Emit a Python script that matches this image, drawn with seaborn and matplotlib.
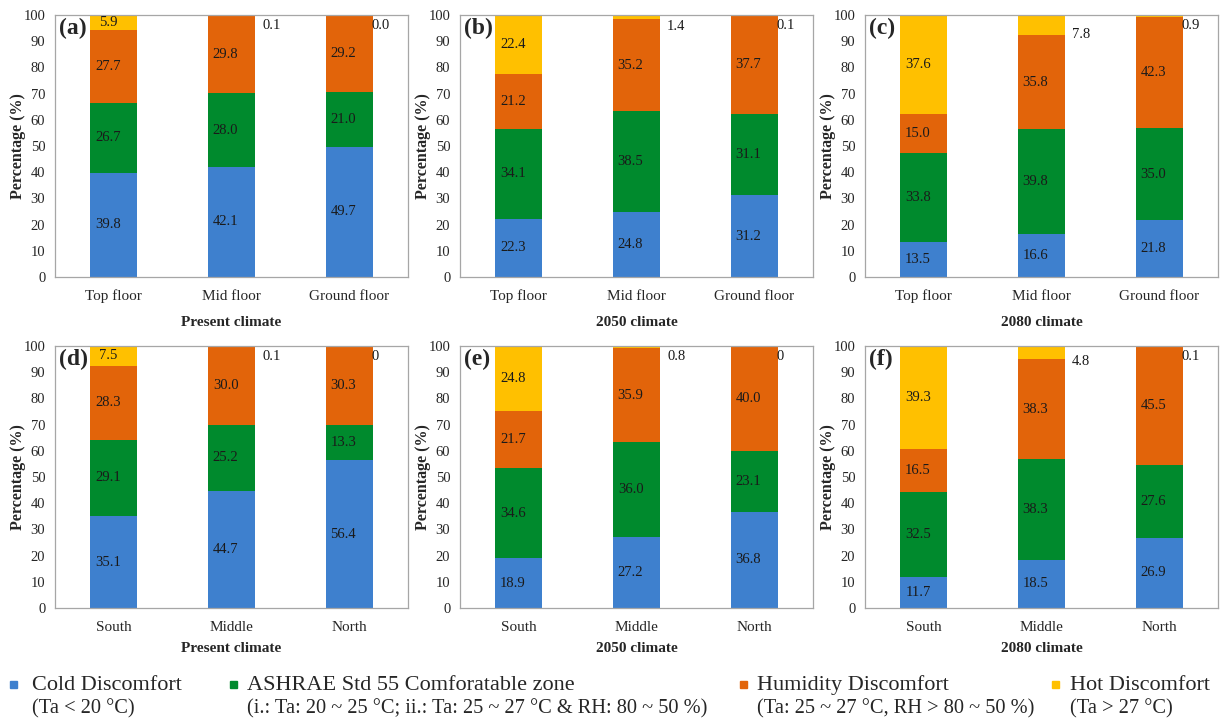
import matplotlib
matplotlib.use("Agg")
import matplotlib.pyplot as plt
from matplotlib.patches import Rectangle
import seaborn as sns
import pandas as pd

# === Andmed (loetud jooniselt) ===
floors = ["Top floor", "Mid floor", "Ground floor"]
regions = ["South", "Middle", "North"]

cold_a = [39.8, 42.1, 49.7]
comf_a = [26.7, 28.0, 21.0]
humid_a = [27.7, 29.8, 29.2]
hot_a = ["5.9", "0.1", "0.0"]

cold_b = [22.3, 24.8, 31.2]
comf_b = [34.1, 38.5, 31.1]
humid_b = [21.2, 35.2, 37.7]
hot_b = ["22.4", "1.4", "0.1"]

cold_c = [13.5, 16.6, 21.8]
comf_c = [33.8, 39.8, 35.0]
humid_c = [15.0, 35.8, 42.3]
hot_c = ["37.6", "7.8", "0.9"]

cold_d = [35.1, 44.7, 56.4]
comf_d = [29.1, 25.2, 13.3]
humid_d = [28.3, 30.0, 30.3]
hot_d = ["7.5", "0.1", "0"]

cold_e = [18.9, 27.2, 36.8]
comf_e = [34.6, 36.0, 23.1]
humid_e = [21.7, 35.9, 40.0]
hot_e = ["24.8", "0.8", "0"]

cold_f = [11.7, 18.5, 26.9]
comf_f = [32.5, 38.3, 27.6]
humid_f = [16.5, 38.3, 45.5]
hot_f = ["39.3", "4.8", "0.1"]

panels = [
    ("(a)", floors, "Present climate", cold_a, comf_a, humid_a, hot_a),
    ("(b)", floors, "2050 climate", cold_b, comf_b, humid_b, hot_b),
    ("(c)", floors, "2080 climate", cold_c, comf_c, humid_c, hot_c),
    ("(d)", regions, "Present climate", cold_d, comf_d, humid_d, hot_d),
    ("(e)", regions, "2050 climate", cold_e, comf_e, humid_e, hot_e),
    ("(f)", regions, "2080 climate", cold_f, comf_f, humid_f, hot_f),
]

layers = ["Cold", "Comfort", "Humidity", "Hot"]
colors = ["#3E80CE", "#008A2D", "#E2640A", "#FFC000"]

legend_main = ["Cold Discomfort", "ASHRAE Std 55 Comforatable zone",
               "Humidity Discomfort", "Hot Discomfort"]
legend_sub = ["(Ta < 20 °C)",
              "(i.: Ta: 20 ~ 25 °C; ii.: Ta: 25 ~ 27 °C & RH: 80 ~ 50 %)",
              "(Ta: 25 ~ 27 °C, RH > 80 ~ 50 %)",
              "(Ta > 27 °C)"]

sns.set_style("white")
plt.rcParams["font.family"] = ["Liberation Serif", "DejaVu Serif"]

W, H = 1224, 723
fig = plt.figure(figsize=(W / 100, H / 100), dpi=100)

lefts = [55, 460, 865]
tops = [15, 346]
aw, ah = 353, 262
grid_col = "#A6A6A6"
txt_col = "#1a1a1a"

for k, (tag, cats, climate, cold, comf, humid, hot_txt) in enumerate(panels):
    row, col = divmod(k, 3)
    ax = fig.add_axes([lefts[col] / W, 1 - (tops[row] + ah) / H, aw / W, ah / H])

    hot = [float(v) for v in hot_txt]
    df = pd.DataFrame({"cat": cats, "Cold": cold, "Comfort": comf,
                       "Humidity": humid, "Hot": hot})
    cum = df[layers].cumsum(axis=1)

    # kuhjatud tulbad: suurimast kumulatiivsest väärtusest alla
    for lay, colr in reversed(list(zip(layers, colors))):
        sns.barplot(data=cum.assign(cat=cats), x="cat", y=lay, color=colr,
                    width=0.4, ax=ax, saturation=1, edgecolor="none")

    # väärtused segmentide sees
    for i in range(3):
        base = 0
        for lay in layers[:3]:
            v = df.loc[i, lay]
            ax.text(i - 0.05, base + v / 2, f"{v:.1f}", ha="center", va="center",
                    fontsize=10.5, color=txt_col)
            base += v
        v = hot[i]
        if i == 0:
            ax.text(i - 0.05, base + v / 2, hot_txt[i], ha="center", va="center",
                    fontsize=10.5, color=txt_col)
        else:
            xo = i + 0.26 if i == 1 else i + 0.19
            yo = min(96, 100 - v / 2 - 3.5)
            ax.text(xo, yo, hot_txt[i], ha="left", va="center", fontsize=10.5,
                    color=txt_col)

    ax.set_xlim(-0.5, 2.5)
    ax.set_ylim(0, 100)
    ax.set_yticks(range(0, 101, 10))
    ax.set_xticks(range(3))
    ax.set_xticklabels(cats, va="baseline")
    ax.set_xticks([-0.5, 0.5, 1.5, 2.5], minor=True)
    ax.tick_params(axis="x", which="major", length=0, pad=16.5, labelsize=11)
    ax.tick_params(axis="x", which="minor", length=5, color=grid_col, direction="out")
    ax.tick_params(axis="y", length=4, color=grid_col, direction="out", pad=3,
                   labelsize=10.5)
    for s in ax.spines.values():
        s.set_visible(True)
        s.set_color(grid_col)
        s.set_linewidth(0.9)

    ax.set_ylabel("Percentage (%)", fontsize=11.5, fontweight="bold")
    ax.yaxis.set_label_coords(-37 / aw, 0.5)
    ax.yaxis.label.set_va("center")
    ax.set_xlabel(climate, fontsize=11, fontweight="bold")
    ax.xaxis.set_label_coords(0.5, -0.172 if row == 0 else -0.155)
    ax.xaxis.label.set_va("center")
    ax.text(0.012, 0.95, tag, transform=ax.transAxes, fontsize=17,
            fontweight="bold", ha="left", va="center")

# === Legend all ===
sq_x = [10, 230, 740, 1052]
txt_x = [32, 247, 757, 1070]
for sx, tx, colr, main, sub in zip(sq_x, txt_x, colors, legend_main, legend_sub):
    fig.patches.append(Rectangle((sx / W, 1 - 688 / H), 7 / W, 7 / H,
                                 transform=fig.transFigure, color=colr))
    fig.text(tx / W, 1 - 685 / H, main, fontsize=16, ha="left", va="center")
    fig.text(tx / W, 1 - 709 / H, sub, fontsize=14.7, ha="left", va="center")

plt.savefig("out.png", dpi=100)
